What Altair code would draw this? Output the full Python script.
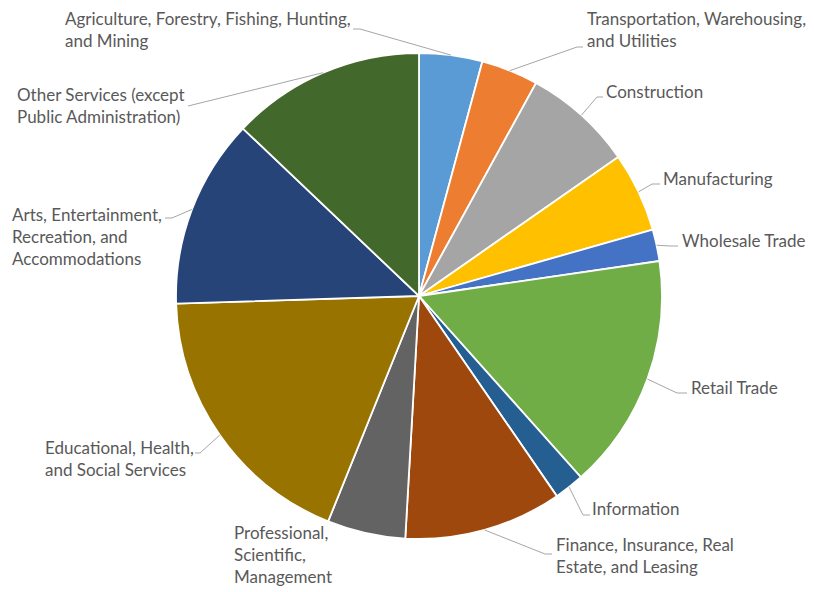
import altair as alt
import pandas as pd

# ---- data ----
CATEGORIES = [
    "Agriculture, Forestry, Fishing, Hunting, and Mining",
    "Transportation, Warehousing, and Utilities",
    "Construction",
    "Manufacturing",
    "Wholesale Trade",
    "Retail Trade",
    "Information",
    "Finance, Insurance, Real Estate, and Leasing",
    "Professional, Scientific, Management",
    "Educational, Health, and Social Services",
    "Arts, Entertainment, Recreation, and Accommodations",
    "Other Services (except Public Administration)",
]
SHARES = [4.2, 3.8, 7.3, 5.3, 2.1, 15.7, 2.0, 10.5, 5.2, 18.4, 12.6, 12.9]
LABEL_LINES = [
    ["Agriculture, Forestry, Fishing, Hunting,", "and Mining"],
    ["Transportation, Warehousing,", "and Utilities"],
    ["Construction"],
    ["Manufacturing"],
    ["Wholesale Trade"],
    ["Retail Trade"],
    ["Information"],
    ["Finance, Insurance, Real", "Estate, and Leasing"],
    ["Professional,", "Scientific,", "Management"],
    ["Educational, Health,", "and Social Services"],
    ["Arts, Entertainment,", "Recreation, and", "Accommodations"],
    ["Other Services (except", "Public Administration)"],
]

# ---- styles ----
COLORS = ["#5B9BD5", "#ED7D31", "#A5A5A5", "#FFC000", "#4472C4", "#70AD47",
          "#255E91", "#9E480E", "#636363", "#997300", "#264478", "#43682B"]

# ---- layout (label annotation positions, chart pixel space) ----
CX, CY, R = 411, 288, 243
LABEL_POS = [(57, 17), (579, 17), (598, 90), (655, 177), (674, 239), (683, 386),
             (584, 507), (548, 543), (226, 531), (37, 446), (4, 213), (9, 93)]
LEADER_ELBOW = [(352, 21), (569, 39), (589, 89), (644, 176), (662, 238), (669, 385),
                (575, 507), (537, 546), None, (192, 445), (164, 210), (180, 98)]
LEADER_END = [(345, 21), (575, 39), (595, 89), (652, 176), (670, 238), (679, 385),
              (582, 507), (544, 546), None, (187, 445), (157, 210), (180, 98)]

rows = []
for i, cat in enumerate(CATEGORIES):
    el = LEADER_ELBOW[i]
    en = LEADER_END[i]
    rows.append({
        "idx": i,
        "category": cat,
        "value": SHARES[i],
        "lines": LABEL_LINES[i],
        "tx": LABEL_POS[i][0],
        "ty": LABEL_POS[i][1],
        "leader": 0 if el is None else 1,
        "elx": el[0] if el else 0,
        "ely": el[1] if el else 0,
        "enx": en[0] if en else 0,
        "eny": en[1] if en else 0,
    })
df = pd.DataFrame(rows)

pie = alt.Chart(df).mark_arc(outerRadius=R, stroke="white", strokeWidth=1.8).encode(
    theta=alt.Theta("value:Q", stack=True),
    color=alt.Color("category:N", scale=alt.Scale(domain=CATEGORIES, range=COLORS), legend=None),
    order=alt.Order("idx:Q"),
    x=alt.value(CX),
    y=alt.value(CY),
)

base = alt.Chart(df).transform_joinaggregate(
    total="sum(value)"
).transform_window(
    cum="sum(value)", sort=[alt.SortField("idx")], frame=[None, 0]
).transform_calculate(
    ang="(datum.cum - datum.value/2) / datum.total * 2 * PI",
    ex=f"{CX} + {R} * sin(datum.ang)",
    ey=f"{CY} - {R} * cos(datum.ang)",
)

lead1 = base.transform_filter("datum.leader == 1").mark_rule(
    color="#A6A6A6", strokeWidth=1
).encode(
    x=alt.X("ex:Q", scale=None, axis=None),
    y=alt.Y("ey:Q", scale=None, axis=None),
    x2="elx:Q",
    y2="ely:Q",
)
lead2 = base.transform_filter("datum.leader == 1").mark_rule(
    color="#A6A6A6", strokeWidth=1
).encode(
    x=alt.X("elx:Q", scale=None, axis=None),
    y=alt.Y("ely:Q", scale=None, axis=None),
    x2="enx:Q",
    y2="eny:Q",
)

labels = base.mark_text(
    align="left", baseline="alphabetic", font="Lato", fontSize=17,
    color="#595959", lineHeight=22,
).encode(
    x=alt.X("tx:Q", scale=None, axis=None),
    y=alt.Y("ty:Q", scale=None, axis=None),
    text="lines",
)

chart = alt.layer(pie, lead1, lead2, labels).properties(
    width=798, height=582, autosize=alt.AutoSizeParams(type="none"), padding=0,
    background="white",
).configure_view(stroke=None)

chart.save("out.html", embed_options={"renderer": "svg", "actions": False})
